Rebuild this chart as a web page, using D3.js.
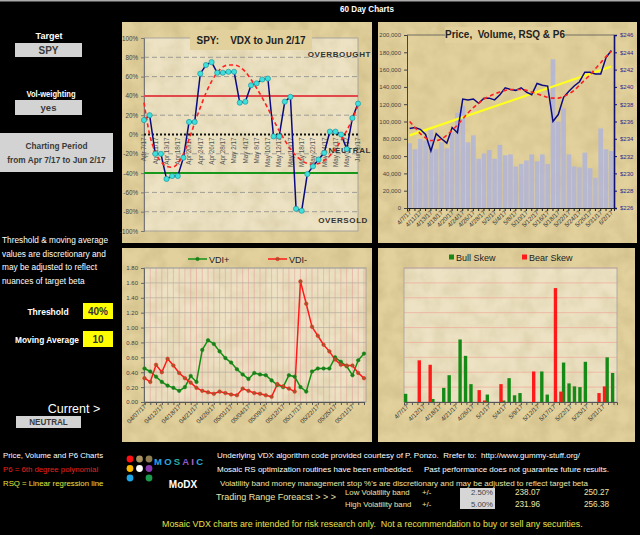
<!DOCTYPE html>
<html><head><meta charset="utf-8">
<script src="https://cdn.jsdelivr.net/npm/d3@7"></script>
<style>
html,body{margin:0;padding:0;background:#000;}
svg{display:block;font-family:Arial,"Liberation Sans",sans-serif;}
text{white-space:pre;}
</style></head><body>
<svg id="c" width="640" height="535"></svg>
<script>
// ---------------- DATA ----------------
const days = ["4/7/17","4/10/17","4/11/17","4/12/17","4/13/17","4/17/17","4/18/17","4/19/17","4/20/17","4/21/17",
  "4/24/17","4/25/17","4/26/17","4/27/17","4/28/17","5/1/17","5/2/17","5/3/17","5/4/17","5/5/17",
  "5/8/17","5/9/17","5/10/17","5/11/17","5/12/17","5/15/17","5/16/17","5/17/17","5/18/17","5/19/17",
  "5/22/17","5/23/17","5/24/17","5/25/17","5/26/17","5/30/17","5/31/17","6/1/17","6/2/17"];
const vdxTickLabels = ["Apr 7/17","Apr 11/17","Apr 13/17","Apr 18/17","Apr 20/17","Apr 24/17","Apr 26/17","Apr 28/17",
  "May 2/17","May 4/17","May 8/17","May 10/17","May 12/17","May 16/17","May 18/17","May 22/17","May 24/17",
  "May 26/17","May 31/17","Jun 2/17"];
const priceTickLabels = ["4/7/17","4/11/17","4/13/17","4/18/17","4/20/17","4/24/17","4/26/17","4/28/17","5/2/17",
  "5/4/17","5/8/17","5/10/17","5/12/17","5/16/17","5/18/17","5/22/17","5/24/17","5/26/17","5/31/17","6/2/17"];
const vdiTickLabels = ["04/07/17","04/12/17","04/18/17","04/21/17","04/26/17","05/01/17","05/04/17","05/09/17",
  "05/12/17","05/17/17","05/22/17","05/25/17","05/31/17"];
const skewTickLabels = ["4/7/17","4/12/17","4/18/17","4/21/17","4/26/17","5/1/17","5/4/17","5/9/17","5/12/17",
  "5/17/17","5/22/17","5/25/17","5/31/17"];

// VDX (%)
const vdx = [15,20,-20,-20,-46,-43,-43,-24,13,13,63,72,75,64,64,65,65,33,34,51,53,57,58,-2,-2,34,39,-77,-79,-41,-33,-26,-19,3,3,0,-15,17,32];
const vdxP6 = [33,0,-18,-28,-33,-34,-30,-20,-5,12,28,43,55,64,70,72,72,70,65,57,48,38,27,15,4,-6,-15,-22,-27,-30,-31,-30,-27,-22,-15,-6,4,16,30];

// Price / volume
const volume = [75000,68000,80000,78000,90000,68000,76000,69000,88000,110000,118000,76000,84000,57000,63000,67000,57000,73000,61000,62000,
  48000,51000,55000,62000,54000,62000,51000,172000,100000,115000,62000,48000,47000,64000,46000,35000,92000,68000,66000];
const price = [235.2,235.3,235.1,234.5,232.6,234.6,234.0,233.5,235.3,234.7,238.6,238.5,238.6,238.1,238.7,238.7,238.5,239.1,239.9,239.7,
  239.6,239.9,239.4,239.1,240.4,240.2,240.1,236.0,236.8,238.8,239.5,240.1,240.6,241.7,241.7,241.5,241.5,243.4,244.2];
const priceP6 = [236.0,235.3,234.6,234.1,233.8,233.8,234.0,234.4,235.0,235.6,236.3,237.0,237.6,238.1,238.6,238.9,239.2,239.4,239.6,239.7,
  239.7,239.7,239.6,239.4,239.2,239.0,238.8,238.7,238.7,238.9,239.2,239.6,240.2,240.8,241.4,242.1,242.8,243.5,244.1];
const rsqEnds = [234.4, 242.35];

// VDI
const vdiPlus = [0.45,0.41,0.34,0.27,0.22,0.19,0.15,0.20,0.35,0.27,0.70,0.83,0.78,0.68,0.59,0.53,0.44,0.37,0.31,0.39,
  0.37,0.36,0.29,0.23,0.20,0.36,0.34,0.20,0.14,0.41,0.45,0.45,0.45,0.60,0.54,0.48,0.36,0.56,0.65];
const vdiMinus = [0.32,0.27,0.50,0.40,0.58,0.49,0.39,0.32,0.26,0.19,0.15,0.13,0.11,0.14,0.12,0.10,0.09,0.18,0.15,0.12,
  0.11,0.09,0.07,0.24,0.21,0.18,0.14,1.62,1.32,1.01,0.89,0.77,0.68,0.57,0.50,0.49,0.49,0.39,0.32];

// Skew
const bullSkew = [0.11,0,0,0,0,0.04,0,0.19,0.36,0,0.84,0.62,0.24,0,0,0.10,0,0,0.02,0.32,0.09,0.12,0,0,0,0.41,0.10,0,0,0.53,0.25,0.21,0.20,0.54,0,0,0,0.60,0.39];
const bearSkew = [0,0,0.56,0,0.50,0,0,0,0,0,0,0,0,0.16,0.02,0,0,0.24,0,0,0,0,0,0.41,0,0,0,1.53,0.14,0,0,0,0,0,0,0.12,0.21,0,0];

// ---------------- DRAW ----------------
const svg = d3.select("#c");
const PANEL = "#e2d19c", PLOT = "#ede3c4";
const defs = svg.append("defs");
const f = defs.append("filter").attr("id","paper").attr("x",0).attr("y",0).attr("width","100%").attr("height","100%");
f.append("feTurbulence").attr("type","fractalNoise").attr("baseFrequency","0.06").attr("numOctaves",3).attr("seed",4);
f.append("feColorMatrix").attr("type","matrix").attr("values","0 0 0 0 0.45  0 0 0 0 0.35  0 0 0 0 0.15  0 0 0 -1.6 1.1");
f.append("feComposite").attr("operator","in").attr("in2","SourceGraphic");

svg.append("rect").attr("width",640).attr("height",535).attr("fill","#000");
svg.append("rect").attr("width",640).attr("height",1.5).attr("fill","#aaa");

function tx(x,y,t,o){
  o = o||{};
  return svg.append("text").attr("transform",`translate(${x},${y}) scale(${o.sx||1},1)`)
    .attr("text-anchor",o.anchor||"start").attr("fill",o.col||"#fff").attr("font-size",o.fs||8.5)
    .attr("font-weight",o.bold?"bold":"normal").text(t);
}
tx(367,12,"60 Day Charts",{fs:9.5,bold:true,anchor:"middle",sx:0.85});

function panel(x,y,w,h){
  svg.append("rect").attr("x",x).attr("y",y).attr("width",w).attr("height",h).attr("fill",PANEL);
  svg.append("rect").attr("x",x).attr("y",y).attr("width",w).attr("height",h).attr("fill","#fff")
    .attr("filter","url(#paper)").attr("opacity",0.35);
}
function plotBg(x,y,w,h,fill){
  svg.append("rect").attr("x",x).attr("y",y).attr("width",w).attr("height",h).attr("fill",fill||PLOT);
  svg.append("rect").attr("x",x).attr("y",y).attr("width",w).attr("height",h).attr("fill","#fff")
    .attr("filter","url(#paper)").attr("opacity",0.25);
}
const idx = d3.range(days.length);

// ======== Left info column ========
function grayBox(x,y,w,h,lines,fs,sx){
  svg.append("rect").attr("x",x).attr("y",y).attr("width",w).attr("height",h).attr("fill","#d3d3d3");
  lines.forEach((t,i)=>{
    tx(x+w/2,y+h/2+fs*0.36+(i-(lines.length-1)/2)*(fs+5),t,{fs:fs,bold:true,anchor:"middle",col:"#3a3a3a",sx:sx||1});
  });
}
tx(49,39,"Target",{fs:9.5,bold:true,anchor:"middle",sx:0.95});
grayBox(15,43,67,14,["SPY"],10);
tx(51,97,"Vol-weighting",{fs:9.5,bold:true,anchor:"middle",sx:0.8});
grayBox(15,100,67,15,["yes"],9.5);
grayBox(0,133,113,39,["Charting Period","from Apr 7/17 to Jun 2/17"],9,0.92);
["Threshold & moving average","values are discretionary and","may be adjusted to reflect","nuances of target beta"]
  .forEach((t,i)=>tx(2,243+i*13.7,t,{fs:8.3}));
tx(48,315,"Threshold",{fs:9.5,bold:true,anchor:"middle",sx:0.9});
svg.append("rect").attr("x",83).attr("y",303).attr("width",30).attr("height",16).attr("fill","#ffff00");
tx(98,315,"40%",{fs:10,bold:true,anchor:"middle",col:"#333"});
tx(47,343,"Moving Average",{fs:9.5,bold:true,anchor:"middle",sx:0.88});
svg.append("rect").attr("x",83).attr("y",331).attr("width",30).attr("height",16).attr("fill","#ffff00");
tx(98,343,"10",{fs:10,bold:true,anchor:"middle",col:"#333"});
tx(74,413,"Current >",{fs:12.5,anchor:"middle"});
grayBox(16,416,65,12,["NEUTRAL"],9,0.9);

// ======== Top-left: VDX ========
panel(122,22,250,221);
{
  const x0=144,x1=358,yT=38,yB=231;
  plotBg(x0,yT,x1-x0,yB-yT);
  const x = d3.scalePoint().domain(idx).range([x0,x1]);
  const y = d3.scaleLinear().domain([-100,100]).range([yB,yT]);
  const ticks = d3.range(-100,101,20);
  ticks.forEach(t=>{
    if (t===100||t===-100||t===0||t===40||t===-40) return;
    svg.append("line").attr("x1",x0).attr("x2",x1).attr("y1",y(t)).attr("y2",y(t))
      .attr("stroke","#8c8c8c").attr("stroke-width",0.8).attr("stroke-dasharray","5,3");
  });
  svg.append("rect").attr("x",x0).attr("y",yT).attr("width",x1-x0).attr("height",yB-yT)
    .attr("fill","none").attr("stroke","#9a9a9a").attr("stroke-width",0.8);
  const ax = svg.append("g").attr("transform",`translate(${x0},0)`)
    .call(d3.axisLeft(y).tickValues(ticks).tickSize(3).tickFormat(d=>d+"%"));
  ax.select(".domain").attr("stroke","#777");
  ax.selectAll("line").attr("stroke","#777");
  ax.selectAll("text").attr("font-size",6.3).attr("fill","#444").attr("font-family","Arial");
  svg.append("line").attr("x1",x0).attr("x2",x1).attr("y1",y(40)).attr("y2",y(40)).attr("stroke","#e2484a").attr("stroke-width",2);
  svg.append("line").attr("x1",x0).attr("x2",x1).attr("y1",y(-40)).attr("y2",y(-40)).attr("stroke","#16981a").attr("stroke-width",2);
  svg.append("line").attr("x1",x0).attr("x2",x1).attr("y1",y(0)).attr("y2",y(0)).attr("stroke","#111").attr("stroke-width",2).attr("stroke-dasharray","2,2");
  svg.append("rect").attr("x",190).attr("y",30).attr("width",122).attr("height",20).attr("fill",PANEL);
  tx(251,44,"SPY:    VDX to Jun 2/17",{fs:10.5,bold:true,anchor:"middle",col:"#222",sx:0.95});
  vdxTickLabels.forEach((t,i)=>{
    svg.append("text").attr("transform",`translate(${x(i*2)+2.3},${y(0)+3}) rotate(-90)`)
      .attr("text-anchor","end").attr("font-size",6.3).attr("fill","#555").text(t);
  });
  [["OVERBOUGHT",371,57],["NEUTRAL",371,153],["OVERSOLD",368,223]].forEach(a=>{
    svg.append("text").attr("x",a[1]).attr("y",a[2]).attr("text-anchor","end").attr("font-size",8)
      .attr("font-weight","bold").attr("letter-spacing",0.6).attr("fill","#333").text(a[0]);
  });
  svg.append("path").datum(vdx).attr("fill","none").attr("stroke","#0a0a80").attr("stroke-width",1.5)
    .attr("d",d3.line().x((d,i)=>x(i)).y(d=>y(d)));
  svg.append("path").datum(vdxP6).attr("fill","none").attr("stroke","#ff2020").attr("stroke-width",1.6)
    .attr("stroke-dasharray","4,3").attr("d",d3.line().curve(d3.curveMonotoneX).x((d,i)=>x(i)).y(d=>y(d)));
  svg.append("g").selectAll("circle").data(vdx).join("circle").attr("cx",(d,i)=>x(i)).attr("cy",d=>y(d))
    .attr("r",2.6).attr("fill","#3ee0dc").attr("stroke","#1b8a96").attr("stroke-width",0.6);
}

// ======== Top-right: Price / Volume ========
panel(378,22,259,221);
{
  const x0=407,x1=614,yT=35,yB=208;
  plotBg(x0,yT,x1-x0,yB-yT,PANEL);
  const x = d3.scaleBand().domain(idx).range([x0,x1]).paddingInner(0.12).paddingOuter(0.06);
  const yv = d3.scaleLinear().domain([0,200000]).range([yB,yT]);
  const yp = d3.scaleLinear().domain([226,246]).range([yB,yT]);
  svg.append("g").selectAll("rect").data(volume).join("rect").attr("x",(d,i)=>x(i)).attr("width",x.bandwidth())
    .attr("y",d=>yv(d)).attr("height",d=>yB-yv(d)).attr("fill","#b3b6d6").attr("opacity",0.9);
  svg.append("line").attr("x1",x0).attr("x2",x1).attr("y1",yT).attr("y2",yT).attr("stroke","#555").attr("stroke-width",0.8);
  const al = svg.append("g").attr("transform",`translate(${x0},0)`)
    .call(d3.axisLeft(yv).ticks(10).tickSize(3).tickFormat(d3.format(",")));
  al.select(".domain").attr("stroke","#444");
  al.selectAll("line").attr("stroke","#444");
  al.selectAll("text").attr("font-size",6).attr("fill","#444").attr("font-family","Arial");
  const ar = svg.append("g").attr("transform",`translate(${x1},0)`)
    .call(d3.axisRight(yp).ticks(10).tickSize(3).tickFormat(d=>"$"+d));
  ar.select(".domain").attr("stroke","#101070").attr("stroke-width",1.6);
  ar.selectAll("line").attr("stroke","#101070");
  ar.selectAll("text").attr("font-size",6).attr("fill","#2a2a90").attr("font-family","Arial");
  const ab = svg.append("g").attr("transform",`translate(0,${yB})`)
    .call(d3.axisBottom(x).tickSize(3).tickFormat(""));
  ab.select(".domain").attr("stroke","#222");
  ab.selectAll("line").attr("stroke","#222");
  priceTickLabels.forEach((t,i)=>{
    svg.append("text").attr("transform",`translate(${x(i*2)+x.bandwidth()/2+2},${yB+5}) rotate(-45)`)
      .attr("text-anchor","end").attr("font-size",6.2).attr("fill","#333").text(t);
  });
  const cx = i=>x(i)+x.bandwidth()/2;
  svg.append("line").attr("x1",cx(0)).attr("x2",cx(days.length-1)).attr("y1",yp(rsqEnds[0])).attr("y2",yp(rsqEnds[1]))
    .attr("stroke","#ffff20").attr("stroke-width",2.2);
  svg.append("path").datum(price).attr("fill","none").attr("stroke","#0c0c80").attr("stroke-width",1.5)
    .attr("d",d3.line().x((d,i)=>cx(i)).y(d=>yp(d)));
  svg.append("path").datum(priceP6).attr("fill","none").attr("stroke","#ff2020").attr("stroke-width",1.6)
    .attr("stroke-dasharray","4,3").attr("d",d3.line().curve(d3.curveMonotoneX).x((d,i)=>cx(i)).y(d=>yp(d)));
  svg.append("rect").attr("x",445).attr("y",27).attr("width",120).attr("height",16).attr("fill",PANEL);
  tx(505,38,"Price,  Volume, RSQ & P6",{fs:10.5,bold:true,anchor:"middle",col:"#222",sx:0.95});
}

// ======== Bottom-left: VDI ========
panel(122,248,250,194);
{
  const x0=144,x1=366,yT=268,yB=402;
  plotBg(x0,yT,x1-x0,yB-yT);
  const x = d3.scalePoint().domain(idx).range([x0+0.5,x1-2]);
  const y = d3.scaleLinear().domain([0,1.8]).range([yB,yT]);
  idx.forEach(i=>svg.append("line").attr("x1",x(i)).attr("x2",x(i)).attr("y1",yT).attr("y2",yB)
    .attr("stroke","#eaa0a0").attr("stroke-width",0.6));
  d3.range(0,1.81,0.2).forEach(t=>svg.append("line").attr("x1",x0).attr("x2",x1).attr("y1",y(t)).attr("y2",y(t))
    .attr("stroke","#b4aca0").attr("stroke-width",0.7));
  svg.append("rect").attr("x",x0).attr("y",yT).attr("width",x1-x0).attr("height",yB-yT)
    .attr("fill","none").attr("stroke","#9a9a9a").attr("stroke-width",0.8);
  const ax = svg.append("g").attr("transform",`translate(${x0},0)`)
    .call(d3.axisLeft(y).tickValues(d3.range(0,1.81,0.2)).tickSize(3).tickFormat(d3.format(".2f")));
  ax.select(".domain").attr("stroke","#666");
  ax.selectAll("line").attr("stroke","#666");
  ax.selectAll("text").attr("font-size",6).attr("fill","#444").attr("font-family","Arial");
  const ab = svg.append("g").attr("transform",`translate(0,${yB})`).call(d3.axisBottom(x).tickSize(3).tickFormat(""));
  ab.select(".domain").attr("stroke","#555");
  ab.selectAll("line").attr("stroke","#555");
  vdiTickLabels.forEach((t,i)=>{
    svg.append("text").attr("transform",`translate(${x(i*3)+2},${yB+5}) rotate(-45)`)
      .attr("text-anchor","end").attr("font-size",6.2).attr("fill","#333").text(t);
  });
  const series = [[vdiPlus,"#139013","#1f7a1f"],[vdiMinus,"#ff1a1a","#9a5a2a"]];
  series.forEach(s=>{
    svg.append("path").datum(s[0]).attr("fill","none").attr("stroke",s[1]).attr("stroke-width",1.5)
      .attr("d",d3.line().x((d,i)=>x(i)).y(d=>y(d)));
  });
  series.forEach(s=>{
    svg.append("g").selectAll("circle").data(s[0]).join("circle").attr("cx",(d,i)=>x(i)).attr("cy",d=>y(d))
      .attr("r",1.8).attr("fill",s[2]).attr("stroke",s[1]).attr("stroke-width",0.5);
  });
  [["VDI+",188,series[0]],["VDI-",268,series[1]]].forEach(l=>{
    svg.append("line").attr("x1",l[1]).attr("x2",l[1]+19).attr("y1",259).attr("y2",259).attr("stroke",l[2][1]).attr("stroke-width",1.5);
    svg.append("circle").attr("cx",l[1]+9.5).attr("cy",259).attr("r",1.8).attr("fill",l[2][2]).attr("stroke",l[2][1]).attr("stroke-width",0.5);
    tx(l[1]+21,262.5,l[0],{fs:9,col:"#222"});
  });
}

// ======== Bottom-right: Skew ========
panel(378,248,257,194);
{
  const x0=404,x1=617,yT=268,yB=402;
  plotBg(x0,yT,x1-x0,yB-yT);
  const x = d3.scaleBand().domain(idx).range([x0,x1]).paddingInner(0).paddingOuter(0.05);
  const y = d3.scaleLinear().domain([0,1.8]).range([yB,yT]);
  d3.range(0.2,1.81,0.2).forEach(t=>svg.append("line").attr("x1",x0).attr("x2",x1).attr("y1",y(t)).attr("y2",y(t))
    .attr("stroke","#f0a898").attr("stroke-width",0.7));
  svg.append("rect").attr("x",x0).attr("y",yT).attr("width",x1-x0).attr("height",yB-yT)
    .attr("fill","none").attr("stroke","#a0a0a0").attr("stroke-width",0.8);
  const bw = x.bandwidth()*0.62;
  const c = i=>x(i)+x.bandwidth()/2;
  svg.append("g").selectAll("rect").data(bullSkew).join("rect").attr("x",(d,i)=>c(i)-bw+0.3).attr("width",bw)
    .attr("y",d=>y(d)).attr("height",d=>yB-y(d)).attr("fill","#168a16");
  svg.append("g").selectAll("rect").data(bearSkew).join("rect").attr("x",(d,i)=>c(i)-0.3).attr("width",bw)
    .attr("y",d=>y(d)).attr("height",d=>yB-y(d)).attr("fill","#ff1a1a");
  const ab = svg.append("g").attr("transform",`translate(0,${yB})`).call(d3.axisBottom(x).tickSize(3).tickFormat(""));
  ab.select(".domain").attr("stroke","#555");
  ab.selectAll("line").attr("stroke","#555");
  skewTickLabels.forEach((t,i)=>{
    svg.append("text").attr("transform",`translate(${c(i*3)+2},${yB+5}) rotate(-45)`)
      .attr("text-anchor","end").attr("font-size",6.2).attr("fill","#333").text(t);
  });
  [["Bull Skew",449,"#168a16"],["Bear Skew",522,"#ff1a1a"]].forEach(l=>{
    svg.append("rect").attr("x",l[1]).attr("y",254.5).attr("width",5).attr("height",5).attr("fill",l[2]);
    tx(l[1]+7,261,l[0],{fs:9.5,col:"#222",sx:0.95});
  });
}

// ======== Bottom text ========
const CREAM = "#ece4a8";
tx(3,458,"Price, Volume and P6 Charts",{fs:7.8});
tx(3,472,"P6 = 6th degree polynomial",{fs:7.8,col:"#e8201e"});
tx(3,486,"RSQ = Linear regression line",{fs:7.8,col:"#e6e640"});
// logo
const dots = [[130,459,"#ff1010"],[139.5,459,"#a8925e"],[149,459,"#8e7e52"],[130,468.5,"#ffb800"],[139.5,468.5,"#ffffff"],[149,468.5,"#8a3ab0"],[130,478,"#1ea6e6"],[149,478,"#1a9a4a"]];
dots.forEach(d=>svg.append("circle").attr("cx",d[0]).attr("cy",d[1]).attr("r",3.4).attr("fill",d[2]));
const mcol = ["#2aa8e0","#2aa8e0","#2ab0a0","#8a5ac8","#c060c0","#2aa8e0"];
const mt = svg.append("text").attr("x",154).attr("y",465).attr("font-size",9.5).attr("font-weight","bold")
  .attr("letter-spacing",2.2);
"MOSAIC".split("").forEach((ch,i)=>mt.append("tspan").attr("fill",mcol[i]).text(ch));
tx(183,488,"MoDX",{fs:10,bold:true,anchor:"middle"});
tx(217,458,"Underlying VDX algorithm code provided courtesy of P. Ponzo.  Rrefer to:  http://www.gummy-stuff.org/",{fs:8});
tx(217,472,"Mosaic RS optimization routines have been embedded.",{fs:8});
tx(424,472,"Past performance does not guarantee future results.",{fs:8});
tx(220,486,"Volatility band money management stop %'s are discretionary and may be adjusted to reflect target beta",{fs:8,col:CREAM});
tx(216,500,"Trading Range Foreacst > > >",{fs:9,col:CREAM});
tx(345,495,"Low Volatility band",{fs:7.8,col:CREAM});
tx(345,507,"High Volatility band",{fs:7.8,col:CREAM});
tx(422,495,"+/-",{fs:7.8,col:CREAM});
tx(422,507,"+/-",{fs:7.8,col:CREAM});
svg.append("rect").attr("x",460).attr("y",488).attr("width",35).attr("height",21).attr("fill","#d6d6d6");
tx(493,495,"2.50%",{fs:7.8,anchor:"end",col:"#444"});
tx(493,507,"5.00%",{fs:7.8,anchor:"end",col:"#444"});
tx(515,495,"238.07",{fs:8.2,col:CREAM});
tx(584,495,"250.27",{fs:8.2,col:CREAM});
tx(515,507,"231.96",{fs:8.2,col:CREAM});
tx(584,507,"256.38",{fs:8.2,col:CREAM});
tx(162,527,"Mosaic VDX charts are intended for risk research only.  Not a recommendation to buy or sell any securities.",{fs:8.9,col:"#e6e24a"});
</script>
</body></html>
